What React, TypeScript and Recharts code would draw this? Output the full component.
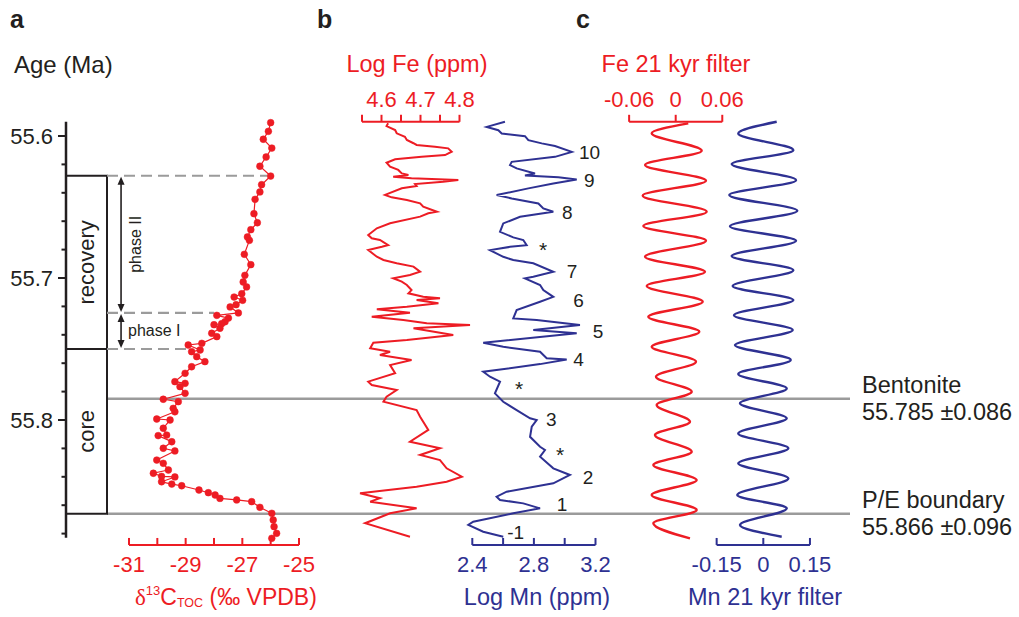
import React from 'react';
import {
  ComposedChart,
  Line,
  XAxis,
  YAxis,
  ReferenceLine,
  ReferenceArea,
  ReferenceDot,
} from 'recharts';

// ---------- colours / fonts ----------
const W = 1019;
const H = 617;
const RED = '#ED1C24';
const BLUE = '#2E3192';
const INK = '#231F20';
const GRAY = '#9B9B9B';
const FONT = '"Liberation Sans", Arial, Helvetica, sans-serif';

// ---------- shared age axis ----------
const AGE_DOMAIN: [number, number] = [55.59, 55.888];
const AGE_AXIS_DOMAIN: [number, number] = [55.59, 55.883];
const ageMajorTicks = [55.6, 55.7, 55.8];
const ageTicks = [55.6, 55.62, 55.64, 55.66, 55.68, 55.7, 55.72, 55.74, 55.76, 55.78, 55.8, 55.82, 55.84, 55.86, 55.88];

// ---------- panel a: d13C TOC ----------
const carbonAge = [
  55.5906, 55.5967, 55.6023, 55.6085, 55.6148, 55.6213, 55.6282, 55.6343, 55.6394, 55.6446,
  55.6547, 55.6611, 55.666, 55.6711, 55.6735, 55.6833, 55.6906, 55.6981, 55.7028, 55.7063,
  55.7111, 55.7134, 55.7157, 55.7188, 55.7204, 55.7246, 55.7263, 55.7282, 55.7308, 55.7322,
  55.7329, 55.7354, 55.7389, 55.7413, 55.746, 55.7472, 55.7507, 55.7519, 55.7554, 55.7589,
  55.7625, 55.7671, 55.773, 55.7742, 55.7765, 55.7812, 55.7854, 55.7871, 55.7918, 55.7942,
  55.7993, 55.8, 55.8058, 55.8106, 55.811, 55.8153, 55.8199, 55.8218, 55.8282, 55.8305,
  55.8352, 55.8375, 55.8397, 55.8401, 55.8435, 55.8451, 55.8463, 55.8493, 55.8512, 55.8528,
  55.8552, 55.8563, 55.8575, 55.8615, 55.8657, 55.8704, 55.8751, 55.8798, 55.8833,
];
const carbonD13C = [
  -26.0, -26.08, -26.26, -25.96, -26.16, -26.38, -26.0, -26.32, -26.38, -26.55,
  -26.59, -26.47, -26.7, -26.82, -26.75, -26.93, -26.7, -26.91, -26.97, -26.85,
  -27.02, -27.29, -26.99, -27.22, -27.43, -27.14, -27.9, -27.49, -27.61, -27.73,
  -28.0, -27.79, -28.08, -27.9, -28.43, -28.91, -28.49, -28.79, -28.61, -28.32,
  -28.79, -29.02, -29.38, -29.02, -29.2, -29.02, -29.79, -29.26, -29.44, -29.38,
  -30.02, -29.55, -29.79, -29.67, -29.97, -29.49, -29.79, -29.38, -30.02, -29.79,
  -29.61, -30.14, -29.85, -29.38, -29.85, -29.49, -29.14, -28.53, -28.2, -27.96,
  -27.79, -27.2, -26.67, -26.38, -25.96, -25.91, -25.88, -25.79, -25.96,
];
const d13cTicks = [-31, -30, -29, -28, -27, -26, -25];
const d13cTickLabels = ['-31', '', '-29', '', '-27', '', '-25'];

// ---------- panel b: log Fe ----------
const feAge = [
  55.5911, 55.593, 55.5958, 55.5981, 55.6005, 55.6028, 55.6051, 55.6063, 55.6075, 55.6087,
  55.6111, 55.6134, 55.6146, 55.6164, 55.6188, 55.6216, 55.6239, 55.6263, 55.6275, 55.6287,
  55.6298, 55.631, 55.6322, 55.6338, 55.6352, 55.6368, 55.6415, 55.6432, 55.6451, 55.6474,
  55.6498, 55.6533, 55.6544, 55.6568, 55.6615, 55.665, 55.6697, 55.672, 55.6732, 55.6768,
  55.678, 55.6803, 55.685, 55.6873, 55.6896, 55.692, 55.6956, 55.6979, 55.7002, 55.7026,
  55.7049, 55.7085, 55.7108, 55.7132, 55.7143, 55.7155, 55.7178, 55.7202, 55.722, 55.7244,
  55.7273, 55.7296, 55.7319, 55.7331, 55.7354, 55.7401, 55.7437, 55.7456, 55.7495, 55.7519,
  55.7542, 55.7577, 55.7613, 55.7671, 55.773, 55.7754, 55.7789, 55.7836, 55.7871, 55.793,
  55.7977, 55.807, 55.8153, 55.8199, 55.8246, 55.8282, 55.834, 55.8399, 55.8435, 55.847,
  55.8516, 55.8551, 55.8575, 55.8622, 55.8657, 55.8727, 55.8822,
];
const feLog = [
  4.617, 4.613, 4.635, 4.639, 4.66, 4.665, 4.682, 4.69, 4.737, 4.771,
  4.78, 4.763, 4.703, 4.635, 4.613, 4.622, 4.643, 4.652, 4.669, 4.63,
  4.677, 4.797, 4.758, 4.686, 4.69, 4.652, 4.609, 4.626, 4.665, 4.699,
  4.707, 4.742, 4.72, 4.699, 4.622, 4.588, 4.566, 4.575, 4.596, 4.617,
  4.601, 4.566, 4.588, 4.605, 4.639, 4.682, 4.699, 4.673, 4.63, 4.652,
  4.665, 4.677, 4.669, 4.707, 4.75, 4.69, 4.746, 4.665, 4.588, 4.673,
  4.575, 4.656, 4.716, 4.827, 4.682, 4.784, 4.665, 4.579, 4.571, 4.622,
  4.596, 4.677, 4.622, 4.635, 4.566, 4.575, 4.639, 4.613, 4.605, 4.69,
  4.699, 4.72, 4.673, 4.75, 4.699, 4.75, 4.767, 4.806, 4.767, 4.69,
  4.545, 4.596, 4.571, 4.69, 4.622, 4.558, 4.673,
];
const feTicks = [4.55, 4.6, 4.65, 4.7, 4.75, 4.8];
const feTickLabels = ['', '4.6', '', '4.7', '', '4.8'];

// ---------- panel b: log Mn ----------
const mnAge = [
  55.5899, 55.5935, 55.5958, 55.5981, 55.6, 55.6028, 55.6051, 55.607, 55.6111, 55.6146,
  55.6181, 55.6204, 55.6227, 55.6263, 55.6278, 55.6289, 55.6306, 55.6333, 55.6368, 55.6415,
  55.6439, 55.6474, 55.6509, 55.6533, 55.6568, 55.6615, 55.6674, 55.6713, 55.6732, 55.6768,
  55.678, 55.6803, 55.685, 55.6873, 55.6896, 55.6956, 55.6991, 55.7002, 55.7049, 55.7085,
  55.7132, 55.7167, 55.7225, 55.7284, 55.7296, 55.7331, 55.7366, 55.7389, 55.7456, 55.7484,
  55.7519, 55.7565, 55.7573, 55.7606, 55.766, 55.7695, 55.773, 55.7812, 55.7871, 55.793,
  55.7988, 55.8, 55.8047, 55.8118, 55.8188, 55.8211, 55.8258, 55.834, 55.8387, 55.8446,
  55.8505, 55.854, 55.8563, 55.8587, 55.8622, 55.8657, 55.8716, 55.8739, 55.8787, 55.8822,
];
const mnLog = [
  2.612, 2.494, 2.569, 2.591, 2.742, 2.764, 2.851, 2.937, 3.046, 2.937,
  2.656, 2.645, 2.688, 2.807, 2.742, 2.959, 3.078, 2.926, 2.764, 2.558,
  2.656, 2.829, 2.861, 2.926, 2.71, 2.601, 2.58, 2.666, 2.731, 2.753,
  2.645, 2.515, 2.601, 2.666, 2.796, 2.926, 2.796, 2.742, 2.84, 2.861,
  2.926, 2.84, 2.688, 2.666, 2.818, 3.099, 2.796, 3.078, 2.471, 2.601,
  2.84, 2.883, 3.013, 2.84, 2.471, 2.515, 2.58, 2.547, 2.601, 2.688,
  2.775, 2.818, 2.786, 2.775, 2.84, 2.872, 2.84, 2.926, 3.034, 2.926,
  2.623, 2.558, 2.58, 2.731, 2.84, 2.666, 2.406, 2.374, 2.471, 2.601,
];
const mnTicks = [2.4, 2.6, 2.8, 3.0, 3.2];
const mnTickLabels = ['2.4', '', '2.8', '', '3.2'];

// numbered Mn peaks (position of the label text)
const mnPeakText = ['10', '9', '8', '*', '7', '6', '5', '4', '*', '3', '*', '2', '1', '-1'];
const mnPeakAge = [55.6111, 55.631, 55.6533, 55.6761, 55.6949, 55.7155, 55.7373, 55.757, 55.7742, 55.7995, 55.8206, 55.8399, 55.8592, 55.8787];
const mnPeakLog = [3.093, 3.125, 2.983, 2.833, 3.013, 3.056, 3.182, 3.056, 2.677, 2.879, 2.944, 3.117, 2.948, 2.627];

// ---------- panel c: 21 kyr filters ----------
const feFilterAge = [
  55.5911, 55.5981, 55.6104, 55.6204, 55.6315, 55.642, 55.6533, 55.6634, 55.6737, 55.685,
  55.6956, 55.7056, 55.7167, 55.7273, 55.7378, 55.7484, 55.7589, 55.7695, 55.7801, 55.7894,
  55.8012, 55.8106, 55.8223, 55.8317, 55.8423, 55.8528, 55.8634, 55.8727, 55.8833,
];
const feFilter = [
  0.0162, -0.0309, 0.0335, -0.0395, 0.039, -0.0425, 0.0399, -0.0417, 0.039, -0.0395,
  0.0377, -0.0373, 0.0348, -0.0353, 0.0304, -0.0309, 0.0261, -0.0254, 0.0206, -0.0245,
  0.0184, -0.0267, 0.0206, -0.0288, 0.027, -0.0309, 0.027, -0.0288, 0.0184,
];
const feFilterTicks = [-0.06, 0, 0.06];
const feFilterTickLabels = ['-0.06', '0', '0.06'];

const mnFilterAge = [
  55.5899, 55.5981, 55.6099, 55.6197, 55.631, 55.6415, 55.6526, 55.6634, 55.6737, 55.6845,
  55.6944, 55.7056, 55.7155, 55.7261, 55.7366, 55.7472, 55.7577, 55.7676, 55.7777, 55.7882,
  55.7988, 55.8094, 55.8199, 55.8305, 55.8411, 55.8528, 55.8622, 55.8739, 55.8822,
];
const mnFilter = [
  0.0431, -0.0805, 0.0966, -0.1017, 0.1053, -0.1094, 0.1094, -0.1072, 0.1053, -0.1017,
  0.0966, -0.0985, 0.0966, -0.0943, 0.0946, -0.0911, 0.0882, -0.0805, 0.0753, -0.075,
  0.0753, -0.0805, 0.0805, -0.0805, 0.0805, -0.0837, 0.0753, -0.075, 0.0592,
];
const mnFilterTicks = [-0.15, 0, 0.15];
const mnFilterTickLabels = ['-0.15', '0', '0.15'];

// ---------- annotations ----------
const zoneNames = ['recovery', 'core'];
const zoneTop = [55.628, 55.75];
const zoneBottom = [55.75, 55.866];

const horizonNames = ['Bentonite', 'P/E boundary'];
const horizonAge = [55.785, 55.866];
const horizonText = ['55.785 \u00b10.086', '55.866 \u00b10.096'];

const phaseLineAge = [55.628, 55.7246, 55.75];
const phaseLineEnd = [-26.1, -28.0, -28.9];
const phaseNames = ['phase II', 'phase I'];
const phaseFrom = [55.628, 55.7246];
const phaseTo = [55.7246, 55.75];

// ---------- layout (pixels) ----------
const PLOT_TOP = 121.8;
const PLOT_BOTTOM = 544.96;
const AGE_AXIS_BOTTOM = 537.86;
const AXIS_H = 30;
const D13C_LEFT = -31.776; // left edge of panel a plot (box edge)
const ARROW_X = -31.28;
const TICK_FONT = 22;
const TITLE_FONT = 23.5;

const rows = (ages: number[], vals: number[]) => ages.map((age, i) => ({ age, v: vals[i] }));
const zoneRows = rows(zoneTop, zoneBottom);
const horizonRows = rows(horizonAge, horizonAge);

type Box = { left: number; right: number; top: number; bottom: number };

function Panel({ box, data, children }: { box: Box; data?: any[]; children: React.ReactNode }) {
  return (
    <div style={{ position: 'absolute', left: 0, top: 0 }}>
      <ComposedChart
        width={W}
        height={H}
        layout="vertical"
        data={data}
        margin={{ top: box.top, bottom: H - box.bottom, left: box.left, right: W - box.right }}
      >
        {children}
      </ComposedChart>
    </div>
  );
}

const AgeTick = (props: any) => {
  const { x, y, payload } = props;
  const v = Number(payload?.value);
  const major = ageMajorTicks.some((m) => Math.abs(m - v) < 1e-6);
  const len = major ? 8 : 4.5;
  return (
    <g>
      <line x1={x - len} x2={x} y1={y} y2={y} stroke={INK} strokeWidth={2} />
      {major && (
        <text x={x - len - 5} y={y} dy="0.355em" textAnchor="end" fontSize={TICK_FONT} fill={INK} fontFamily={FONT}>
          {v.toFixed(1)}
        </text>
      )}
    </g>
  );
};

const HorizonLabel = (props: any) => {
  const vb = props.viewBox || {};
  const x = (vb.x ?? 0) + (vb.width ?? 0) + 12;
  const y = vb.y ?? 0;
  return (
    <g>
      <text x={x} y={y - 6} fontSize={TITLE_FONT} fill={INK} fontFamily={FONT}>{props.hname}</text>
      <text x={x} y={y + 21.5} fontSize={TITLE_FONT} fill={INK} fontFamily={FONT}>{props.htext}</text>
    </g>
  );
};

const PeakLabel = (props: any) => {
  const vb = props.viewBox || {};
  const x = (vb.x ?? 0) + (vb.width ?? 0);
  const y = (vb.y ?? 0) + (vb.height ?? 0) / 2;
  const star = props.peak === '*';
  return (
    <text x={x} y={y} dy={star ? '0.6em' : '0.36em'} fontSize={star ? 21 : 19} fill={INK} fontFamily={FONT}>
      {props.peak}
    </text>
  );
};

const makeArrow = (label: string, rotated: boolean) => (p: any) => {
  const x = Number(p.x1);
  const top = Math.min(Number(p.y1), Number(p.y2)) + 1;
  const bot = Math.max(Number(p.y1), Number(p.y2)) - 1;
  const ah = 8;
  const aw = 3.5;
  const mid = (top + bot) / 2;
  return (
    <g>
      <line x1={x} y1={top + ah - 1} x2={x} y2={bot - ah + 1} stroke={INK} strokeWidth={1.6} />
      <path d={`M${x},${top} L${x - aw},${top + ah} L${x + aw},${top + ah} Z`} fill={INK} />
      <path d={`M${x},${bot} L${x - aw},${bot - ah} L${x + aw},${bot - ah} Z`} fill={INK} />
      {rotated ? (
        <text
          transform={`translate(${x + 14.5},${mid}) rotate(-90)`}
          textAnchor="middle"
          dominantBaseline="central"
          fontSize={16}
          fill={INK}
          fontFamily={FONT}
        >
          {label}
        </text>
      ) : (
        <text x={x + 7} y={mid} dominantBaseline="central" fontSize={16} fill={INK} fontFamily={FONT}>
          {label}
        </text>
      )}
    </g>
  );
};

const tickLineStyle = (c: string) => ({ stroke: c, strokeWidth: 2 });

export default function App() {
  return (
    <div
      style={{
        position: 'absolute',
        left: 0,
        top: 0,
        width: W,
        height: H,
        background: '#fff',
        fontFamily: FONT,
        overflow: 'hidden',
      }}
    >
      {/* horizons */}
      <Panel box={{ left: 107, right: 850, top: PLOT_TOP, bottom: PLOT_BOTTOM }} data={horizonRows}>
        <XAxis type="number" hide dataKey="v" domain={[0, 1]} allowDataOverflow />
        <YAxis type="number" hide dataKey="age" domain={AGE_DOMAIN} />
        {horizonNames.map((n, i) => (
          <ReferenceLine
            key={n}
            y={horizonAge[i]}
            stroke={GRAY}
            strokeWidth={2.5}
            ifOverflow="visible"
            label={<HorizonLabel hname={n} htext={horizonText[i]} />}
          />
        ))}
      </Panel>

      {/* age axis + zone boxes */}
      <Panel box={{ left: 6, right: 107, top: PLOT_TOP, bottom: AGE_AXIS_BOTTOM }} data={zoneRows}>
        <XAxis type="number" hide domain={[0, 1]} allowDataOverflow />
        <YAxis
          type="number"
          dataKey="age"
          domain={AGE_AXIS_DOMAIN}
          width={60}
          ticks={ageTicks}
          interval={0}
          tickSize={0}
          tickMargin={0}
          stroke={INK}
          axisLine={{ stroke: INK, strokeWidth: 2.5 }}
          tickLine={false}
          tick={<AgeTick />}
        />
        {zoneNames.map((n, i) => (
          <ReferenceArea
            key={n}
            y1={zoneTop[i]}
            y2={zoneBottom[i]}
            fill="#ffffff"
            fillOpacity={1}
            stroke={INK}
            strokeWidth={2}
            ifOverflow="visible"
            label={{ value: n, position: 'center', angle: -90, fontSize: TICK_FONT, fill: INK }}
          />
        ))}
      </Panel>

      {/* panel a: d13C */}
      <Panel box={{ left: 107, right: 299, top: PLOT_TOP, bottom: PLOT_BOTTOM + AXIS_H }} data={rows(carbonAge, carbonD13C)}>
        <XAxis
          type="number"
          domain={[D13C_LEFT, -25]}
          ticks={d13cTicks}
          interval={0}
          height={AXIS_H}
          tickSize={-7}
          tickMargin={18}
          axisLine={false}
          tickLine={tickLineStyle(RED)}
          tick={{ fill: RED, fontSize: TICK_FONT }}
          tickFormatter={(_v: number, i: number) => d13cTickLabels[i]}
        />
        <YAxis type="number" hide dataKey="age" domain={AGE_DOMAIN} />
        <ReferenceLine
          segment={[{ x: -31, y: AGE_DOMAIN[1] }, { x: -25, y: AGE_DOMAIN[1] }]}
          stroke={RED}
          strokeWidth={2}
          ifOverflow="visible"
        />
        {phaseLineAge.map((a, i) => (
          <ReferenceLine
            key={'pl' + i}
            segment={[{ x: D13C_LEFT, y: a }, { x: phaseLineEnd[i], y: a }]}
            stroke={GRAY}
            strokeWidth={2.2}
            strokeDasharray="11 6"
            ifOverflow="visible"
          />
        ))}
        {phaseNames.map((n, i) => (
          <ReferenceLine
            key={n}
            segment={[{ x: ARROW_X, y: phaseFrom[i] }, { x: ARROW_X, y: phaseTo[i] }]}
            ifOverflow="visible"
            shape={makeArrow(n, i === 0)}
          />
        ))}
        <Line
          dataKey="v"
          type="linear"
          stroke={RED}
          strokeWidth={1.2}
          dot={{ r: 3.4, fill: RED, stroke: RED, strokeWidth: 0.5 }}
          isAnimationActive={false}
        />
      </Panel>

      {/* panel b: Fe */}
      <Panel box={{ left: 342.5, right: 479, top: PLOT_TOP - AXIS_H, bottom: PLOT_BOTTOM }} data={rows(feAge, feLog)}>
        <XAxis
          type="number"
          orientation="top"
          domain={[4.5, 4.85]}
          ticks={feTicks}
          interval={0}
          height={AXIS_H}
          tickSize={7}
          tickMargin={8}
          axisLine={false}
          tickLine={tickLineStyle(RED)}
          tick={{ fill: RED, fontSize: TICK_FONT }}
          tickFormatter={(_v: number, i: number) => feTickLabels[i]}
        />
        <YAxis type="number" hide dataKey="age" domain={AGE_DOMAIN} />
        <ReferenceLine
          segment={[{ x: 4.55, y: AGE_DOMAIN[0] }, { x: 4.8, y: AGE_DOMAIN[0] }]}
          stroke={RED}
          strokeWidth={2}
          ifOverflow="visible"
        />
        <Line dataKey="v" type="linear" stroke={RED} strokeWidth={2} dot={false} isAnimationActive={false} />
      </Panel>

      {/* panel b: Mn */}
      <Panel box={{ left: 456.9, right: 610.9, top: PLOT_TOP, bottom: PLOT_BOTTOM + AXIS_H }} data={rows(mnAge, mnLog)}>
        <XAxis
          type="number"
          domain={[2.3, 3.3]}
          ticks={mnTicks}
          interval={0}
          height={AXIS_H}
          tickSize={-7}
          tickMargin={18}
          axisLine={false}
          tickLine={tickLineStyle(BLUE)}
          tick={{ fill: BLUE, fontSize: TICK_FONT }}
          tickFormatter={(_v: number, i: number) => mnTickLabels[i]}
        />
        <YAxis type="number" hide dataKey="age" domain={AGE_DOMAIN} />
        <ReferenceLine
          segment={[{ x: 2.4, y: AGE_DOMAIN[1] }, { x: 3.2, y: AGE_DOMAIN[1] }]}
          stroke={BLUE}
          strokeWidth={2}
          ifOverflow="visible"
        />
        <Line dataKey="v" type="linear" stroke={BLUE} strokeWidth={2} dot={false} isAnimationActive={false} />
        {mnPeakText.map((t, i) => (
          <ReferenceDot
            key={'pk' + i}
            x={mnPeakLog[i]}
            y={mnPeakAge[i]}
            r={0}
            fill="none"
            stroke="none"
            ifOverflow="visible"
            label={<PeakLabel peak={t} />}
          />
        ))}
      </Panel>

      {/* panel c: Fe filter */}
      <Panel box={{ left: 613.6, right: 737.8, top: PLOT_TOP - AXIS_H, bottom: PLOT_BOTTOM }} data={rows(feFilterAge, feFilter)}>
        <XAxis
          type="number"
          orientation="top"
          domain={[-0.08, 0.08]}
          ticks={feFilterTicks}
          interval={0}
          height={AXIS_H}
          tickSize={7}
          tickMargin={8}
          axisLine={false}
          tickLine={tickLineStyle(RED)}
          tick={{ fill: RED, fontSize: TICK_FONT }}
          tickFormatter={(_v: number, i: number) => feFilterTickLabels[i]}
        />
        <YAxis type="number" hide dataKey="age" domain={AGE_DOMAIN} />
        <ReferenceLine
          segment={[{ x: -0.06, y: AGE_DOMAIN[0] }, { x: 0.06, y: AGE_DOMAIN[0] }]}
          stroke={RED}
          strokeWidth={2}
          ifOverflow="visible"
        />
        <Line dataKey="v" type="monotone" stroke={RED} strokeWidth={2.4} dot={false} isAnimationActive={false} />
      </Panel>

      {/* panel c: Mn filter */}
      <Panel box={{ left: 701.1, right: 825.5, top: PLOT_TOP, bottom: PLOT_BOTTOM + AXIS_H }} data={rows(mnFilterAge, mnFilter)}>
        <XAxis
          type="number"
          domain={[-0.2, 0.2]}
          ticks={mnFilterTicks}
          interval={0}
          height={AXIS_H}
          tickSize={-7}
          tickMargin={18}
          axisLine={false}
          tickLine={tickLineStyle(BLUE)}
          tick={{ fill: BLUE, fontSize: TICK_FONT }}
          tickFormatter={(_v: number, i: number) => mnFilterTickLabels[i]}
        />
        <YAxis type="number" hide dataKey="age" domain={AGE_DOMAIN} />
        <ReferenceLine
          segment={[{ x: -0.15, y: AGE_DOMAIN[1] }, { x: 0.15, y: AGE_DOMAIN[1] }]}
          stroke={BLUE}
          strokeWidth={2}
          ifOverflow="visible"
        />
        <Line dataKey="v" type="monotone" stroke={BLUE} strokeWidth={2.4} dot={false} isAnimationActive={false} />
      </Panel>

      {/* titles */}
      <svg
        width={W}
        height={H}
        style={{ position: 'absolute', left: 0, top: 0, pointerEvents: 'none' }}
        fontFamily={FONT}
      >
        <text x={10} y={28} fontSize={25} fontWeight="bold" fill={INK}>a</text>
        <text x={317} y={28} fontSize={25} fontWeight="bold" fill={INK}>b</text>
        <text x={576} y={28} fontSize={25} fontWeight="bold" fill={INK}>c</text>
        <text x={14} y={73} fontSize={24} fill={INK}>Age (Ma)</text>
        <text x={417} y={72} fontSize={TITLE_FONT} fill={RED} textAnchor="middle">Log Fe (ppm)</text>
        <text x={676} y={72} fontSize={TITLE_FONT} fill={RED} textAnchor="middle">Fe 21 kyr filter</text>
        <text x={135} y={605} fontSize={23} fill={RED}>
          <tspan fontFamily='"Liberation Serif", "DejaVu Serif", serif'>δ</tspan>
          <tspan fontSize={13} dy={-10}>13</tspan>
          <tspan dy={10}>C</tspan>
          <tspan fontSize={12.5} dy={2}>TOC</tspan>
          <tspan dy={-2}> (‰ VPDB)</tspan>
        </text>
        <text x={537} y={605} fontSize={TITLE_FONT} fill={BLUE} textAnchor="middle">Log Mn (ppm)</text>
        <text x={765} y={605} fontSize={TITLE_FONT} fill={BLUE} textAnchor="middle">Mn 21 kyr filter</text>
      </svg>
    </div>
  );
}
